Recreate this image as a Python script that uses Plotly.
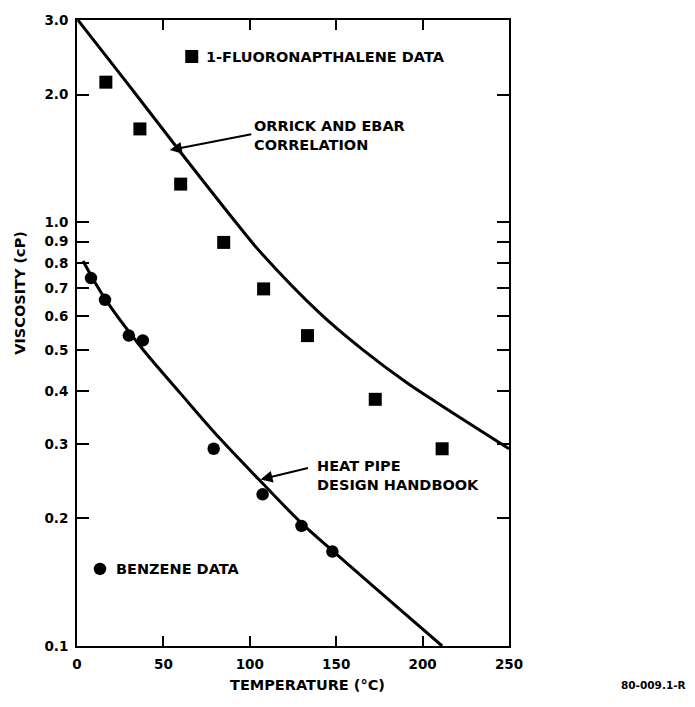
import math
import plotly.graph_objects as go

# ---- data ----
fluoro_T = [16.7, 36.4, 60.0, 84.9, 108.0, 133.4, 172.6, 211.3]
fluoro_mu = [2.14, 1.66, 1.23, 0.896, 0.696, 0.54, 0.382, 0.292]

benzene_T = [8.1, 16.2, 30.0, 38.1, 79.1, 107.4, 129.9, 147.8]
benzene_mu = [0.738, 0.656, 0.54, 0.526, 0.292, 0.228, 0.192, 0.167]

orrick_T = [0.5, 29.4, 59.5, 94.1, 105.7, 140.3, 165.1, 190.5, 207.9, 250.0]
orrick_mu = [3.0, 2.12, 1.47, 0.974, 0.854, 0.611, 0.501, 0.419, 0.376, 0.292]

hp_T = [3.5, 16.2, 36.4, 60.0, 82.6, 105.7, 129.9, 147.8, 180.0, 211.3]
hp_mu = [0.81, 0.66, 0.511, 0.394, 0.309, 0.246, 0.195, 0.168, 0.129, 0.10]

x_ticks = [0, 50, 100, 150, 200, 250]
y_ticks = [3.0, 2.0, 1.0, 0.9, 0.8, 0.7, 0.6, 0.5, 0.4, 0.3, 0.2, 0.1]
y_ticktext = ["3.0", "2.0", "1.0", "0.9", "0.8", "0.7", "0.6", "0.5", "0.4", "0.3", "0.2", "0.1"]

# legend key marker positions (data coords)
key_square = (66.4, 2.46)
key_circle = (13.3, 0.152)

FAM = "DejaVu Sans, Arial, sans-serif"
TICKFONT = dict(family=FAM, size=13.5, color="black", weight="bold")
FONT = dict(family=FAM, size=14.5, color="black", weight="bold")

fig = go.Figure()
fig.add_trace(go.Scatter(x=orrick_T, y=orrick_mu, mode="lines",
                         line=dict(color="black", width=3, shape="spline", smoothing=1.0),
                         showlegend=False, hoverinfo="skip"))
fig.add_trace(go.Scatter(x=hp_T, y=hp_mu, mode="lines",
                         line=dict(color="black", width=3, shape="spline", smoothing=1.0),
                         showlegend=False, hoverinfo="skip"))
fig.add_trace(go.Scatter(x=fluoro_T, y=fluoro_mu, mode="markers",
                         marker=dict(symbol="square", size=13, color="black"),
                         showlegend=False))
fig.add_trace(go.Scatter(x=benzene_T, y=benzene_mu, mode="markers",
                         marker=dict(symbol="circle", size=12.5, color="black"),
                         showlegend=False))
fig.add_trace(go.Scatter(x=[key_square[0]], y=[key_square[1]], mode="markers",
                         marker=dict(symbol="square", size=13, color="black"),
                         showlegend=False))
fig.add_trace(go.Scatter(x=[key_circle[0]], y=[key_circle[1]], mode="markers",
                         marker=dict(symbol="circle", size=12.5, color="black"),
                         showlegend=False))

axis_common = dict(showline=True, linecolor="black", linewidth=2, mirror="ticks",
                   ticks="inside", tickcolor="black", tickwidth=2,
                   showgrid=False, zeroline=False, tickfont=TICKFONT)

fig.update_xaxes(range=[0, 250], tickvals=x_ticks, ticklen=10, ticklabelstandoff=5,
                 **axis_common)
fig.update_yaxes(type="log", range=[-1, 0.47712], tickvals=y_ticks, ticktext=y_ticktext,
                 ticklen=12, ticklabelstandoff=4, **axis_common)

lg = math.log10
annots = [
    dict(x=key_square[0] + 7, y=lg(key_square[1]), text="1-FLUORONAPTHALENE DATA",
         xanchor="left", yanchor="middle", showarrow=False, font=FONT),
    dict(x=key_circle[0] + 8, y=lg(key_circle[1]), text="BENZENE DATA",
         xanchor="left", yanchor="middle", showarrow=False, font=FONT),
    dict(x=101.0, y=lg(1.60), text="ORRICK AND EBAR<br>CORRELATION", align="left",
         xanchor="left", yanchor="middle", showarrow=False, font=FONT),
    dict(x=53.7, y=lg(1.48), text="", showarrow=True, ax=83, ay=-16,
         arrowhead=2, arrowsize=1.2, arrowwidth=2, arrowcolor="black"),
    dict(x=137.5, y=lg(0.253), text="HEAT PIPE<br>DESIGN HANDBOOK", align="left",
         xanchor="left", yanchor="middle", showarrow=False, font=FONT),
    dict(x=106.2, y=lg(0.247), text="", showarrow=True, ax=49, ay=-12,
         arrowhead=2, arrowsize=1.2, arrowwidth=2, arrowcolor="black"),
    dict(x=307, y=685, xref="paper", yref="paper", text="TEMPERATURE (°C)",
         xanchor="center", yanchor="middle", showarrow=False, font=FONT),
    dict(x=20, y=290, xref="paper", yref="paper", text="VISCOSITY (cP)", textangle=-90,
         xanchor="center", yanchor="middle", showarrow=False, font=FONT),
    dict(x=653, y=685, xref="paper", yref="paper", text="80-009.1-R",
         xanchor="center", yanchor="middle", showarrow=False,
         font=dict(family=FAM, size=10.5, color="black", weight="bold")),
]

# convert pixel-positioned paper annotations to paper fractions
L, R, T, B = 77, 186, 15, 61
W, H = 695, 707
pw, ph = W - L - R, H - T - B
for a in annots:
    if a.get("xref") == "paper":
        a["x"] = (a["x"] - L) / pw
        a["y"] = (H - B - a["y"]) / ph

fig.update_layout(width=W, height=H, margin=dict(l=L, r=R, t=T, b=B),
                  plot_bgcolor="white", paper_bgcolor="white",
                  annotations=annots, showlegend=False)

fig.write_html("out.html")
